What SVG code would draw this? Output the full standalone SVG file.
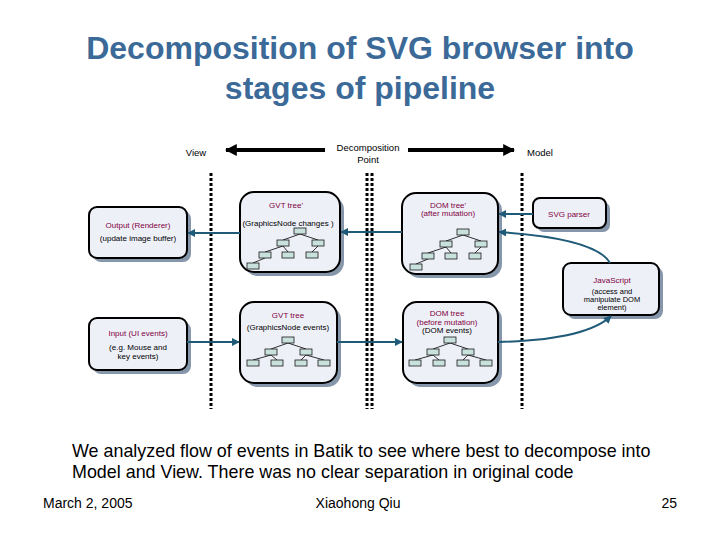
<svg xmlns="http://www.w3.org/2000/svg" xmlns:xlink="http://www.w3.org/1999/xlink" width="720" height="540" viewBox="0 0 720 540">
<style>
.title{font-family:"Liberation Sans",Arial,sans-serif;font-size:32px;font-weight:bold;fill:#3b6a99;text-anchor:middle}
.body{font-family:"Liberation Sans",Arial,sans-serif;font-size:17.9px;fill:#000}
.foot{font-family:"Liberation Sans",Arial,sans-serif;font-size:14px;fill:#000}
.lbl{font-family:"Liberation Sans",Arial,sans-serif;font-size:9.5px;fill:#000;text-anchor:middle}
.nt{font-family:"Liberation Sans",Arial,sans-serif;font-size:8px;fill:#800040;text-anchor:middle}
.ns{font-family:"Liberation Sans",Arial,sans-serif;font-size:8px;fill:#000;text-anchor:middle}
.js{font-size:7.5px}
.box{fill:#eef0f8;stroke:#000;stroke-width:2}
.shadow{fill:#8797ab}
.tn{fill:#c9e1dd;stroke:#1a1a1a;stroke-width:0.8}
.tl{stroke:#000;stroke-width:0.8;fill:none}
.dot{stroke:#000;stroke-width:3;stroke-dasharray:3 2;fill:none}
.conn{stroke:#1f5a78;stroke-width:2;fill:none}
</style>
<defs>
<marker id="ah" viewBox="0 0 10 10" refX="9" refY="5" markerWidth="4" markerHeight="4" orient="auto">
<path d="M0,0 L10,5 L0,10 z" fill="#1f5a78"/>
</marker>
<marker id="big" viewBox="0 0 10 10" refX="9" refY="5" markerWidth="3" markerHeight="3" orient="auto">
<path d="M0,0 L10,5 L0,10 z" fill="#000"/>
</marker>
<g id="treeA">
<path class="tl" d="M6,6 L-11,12 M6,6 L24,12 M-11,18 L-29,24 M-11,18 L-6,24 M24,18 L18,24 M-29,30 L-41,35"/>
<rect class="tn" x="0" y="0" width="12" height="6"/>
<rect class="tn" x="-17" y="12" width="12" height="6"/>
<rect class="tn" x="18" y="12" width="12" height="6"/>
<rect class="tn" x="-35" y="24" width="12" height="6"/>
<rect class="tn" x="-12" y="24" width="12" height="6"/>
<rect class="tn" x="12" y="24" width="12" height="6"/>
<rect class="tn" x="-47" y="35" width="12" height="6"/>
</g>
<g id="treeB">
<path class="tl" d="M6,6 L-11,12 M6,6 L24,12 M-11,18 L-29,23 M-11,18 L-5,23 M24,18 L19,23 M24,18 L42,23"/>
<rect class="tn" x="0" y="0" width="12" height="6"/>
<rect class="tn" x="-17" y="12" width="12" height="6"/>
<rect class="tn" x="18" y="12" width="12" height="6"/>
<rect class="tn" x="-35" y="23" width="12" height="6"/>
<rect class="tn" x="-11" y="23" width="12" height="6"/>
<rect class="tn" x="13" y="23" width="12" height="6"/>
<rect class="tn" x="36" y="23" width="12" height="6"/>
</g>
</defs>
<rect width="720" height="540" fill="#fff"/>
<text class="title" x="360" y="59">Decomposition of SVG browser into</text>
<text class="title" x="360" y="99">stages of pipeline</text>

<g id="axis">
<line x1="325" y1="150" x2="226" y2="150" stroke="#000" stroke-width="4" marker-end="url(#big)"/>
<line x1="408" y1="150" x2="514" y2="150" stroke="#000" stroke-width="4" marker-end="url(#big)"/>
<text class="lbl" x="196" y="156">View</text>
<text class="lbl" x="368" y="151">Decomposition</text>
<text class="lbl" x="368" y="163">Point</text>
<text class="lbl" x="540" y="156">Model</text>
</g>

<g id="dividers">
<line class="dot" x1="211" y1="173" x2="211" y2="409"/>
<line class="dot" x1="367" y1="173" x2="367" y2="409"/>
<line class="dot" x1="372" y1="173" x2="372" y2="409"/>
<line class="dot" x1="522" y1="173" x2="522" y2="409"/>
</g>

<g id="output">
<rect class="shadow" x="93" y="211" width="98" height="51" rx="8"/>
<rect class="box" x="89" y="207" width="98" height="51" rx="8"/>
<text class="nt" x="138" y="228">Output (Renderer)</text>
<text class="ns" x="138" y="241">(update image buffer)</text>
</g>

<g id="gvt-tree-changed">
<rect class="shadow" x="244" y="196" width="100" height="80" rx="14"/>
<rect class="box" x="240" y="192" width="100" height="80" rx="14"/>
<text class="nt" x="286" y="208">GVT tree'</text>
<text class="ns" x="288" y="226">(GraphicsNode changes )</text>
<use xlink:href="#treeA" x="294" y="228"/>
</g>

<g id="dom-tree-changed">
<rect class="shadow" x="406" y="197" width="96" height="81" rx="14"/>
<rect class="box" x="402" y="193" width="96" height="81" rx="14"/>
<text class="nt" x="448" y="208">DOM tree'</text>
<text class="nt" x="448" y="216">(after mutation)</text>
<use xlink:href="#treeA" x="457" y="229"/>
</g>

<g id="svg-parser">
<rect class="shadow" x="537" y="202" width="73" height="30" rx="7"/>
<rect class="box" x="533" y="198" width="73" height="30" rx="7"/>
<text class="nt" x="569" y="217">SVG parser</text>
</g>

<g id="javascript">
<rect class="shadow" x="567" y="267" width="96" height="52" rx="8"/>
<rect class="box" x="563" y="263" width="96" height="52" rx="8"/>
<text class="nt" x="612" y="283">JavaScript</text>
<text class="ns js" x="612" y="294">(access and</text>
<text class="ns js" x="612" y="302">manipulate DOM</text>
<text class="ns js" x="612" y="310">element)</text>
</g>

<g id="input">
<rect class="shadow" x="93" y="322" width="98" height="52" rx="8"/>
<rect class="box" x="89" y="318" width="98" height="52" rx="8"/>
<text class="nt" x="138" y="336">Input (UI events)</text>
<text class="ns" x="138" y="350">(e.g. Mouse and</text>
<text class="ns" x="138" y="359">key events)</text>
</g>

<g id="gvt-tree">
<rect class="shadow" x="244" y="306" width="97" height="81" rx="14"/>
<rect class="box" x="240" y="302" width="97" height="81" rx="14"/>
<text class="nt" x="288" y="318">GVT tree</text>
<text class="ns" x="288" y="330">(GraphicsNode events)</text>
<use xlink:href="#treeB" x="282" y="337"/>
</g>

<g id="dom-tree">
<rect class="shadow" x="407" y="306" width="95" height="81" rx="14"/>
<rect class="box" x="403" y="302" width="95" height="81" rx="14"/>
<text class="nt" x="447" y="316">DOM tree</text>
<text class="nt" x="447" y="325">(before mutation)</text>
<text class="ns" x="447" y="333">(DOM events)</text>
<use xlink:href="#treeB" x="444" y="337"/>
</g>

<g id="connectors">
<line class="conn" x1="240" y1="233" x2="188" y2="233" marker-end="url(#ah)"/>
<line class="conn" x1="402" y1="232" x2="341" y2="232" marker-end="url(#ah)"/>
<line class="conn" x1="533" y1="214" x2="499" y2="214" marker-end="url(#ah)"/>
<path class="conn" d="M610,263 C600,245 560,236 499,232" marker-end="url(#ah)"/>
<path class="conn" d="M498,342 C540,341 590,336 611,316" marker-end="url(#ah)"/>
<line class="conn" x1="187" y1="342" x2="239" y2="342" marker-end="url(#ah)"/>
<line class="conn" x1="337" y1="342" x2="402" y2="342" marker-end="url(#ah)"/>
</g>

<text class="body" x="72" y="457">We analyzed flow of events in Batik to see where best to decompose into</text>
<text class="body" x="72" y="478">Model and View. There was no clear separation in original code</text>
<text class="foot" x="43" y="508">March 2, 2005</text>
<text class="foot" x="358" y="508" text-anchor="middle">Xiaohong Qiu</text>
<text class="foot" x="677" y="508" text-anchor="end">25</text>
</svg>
